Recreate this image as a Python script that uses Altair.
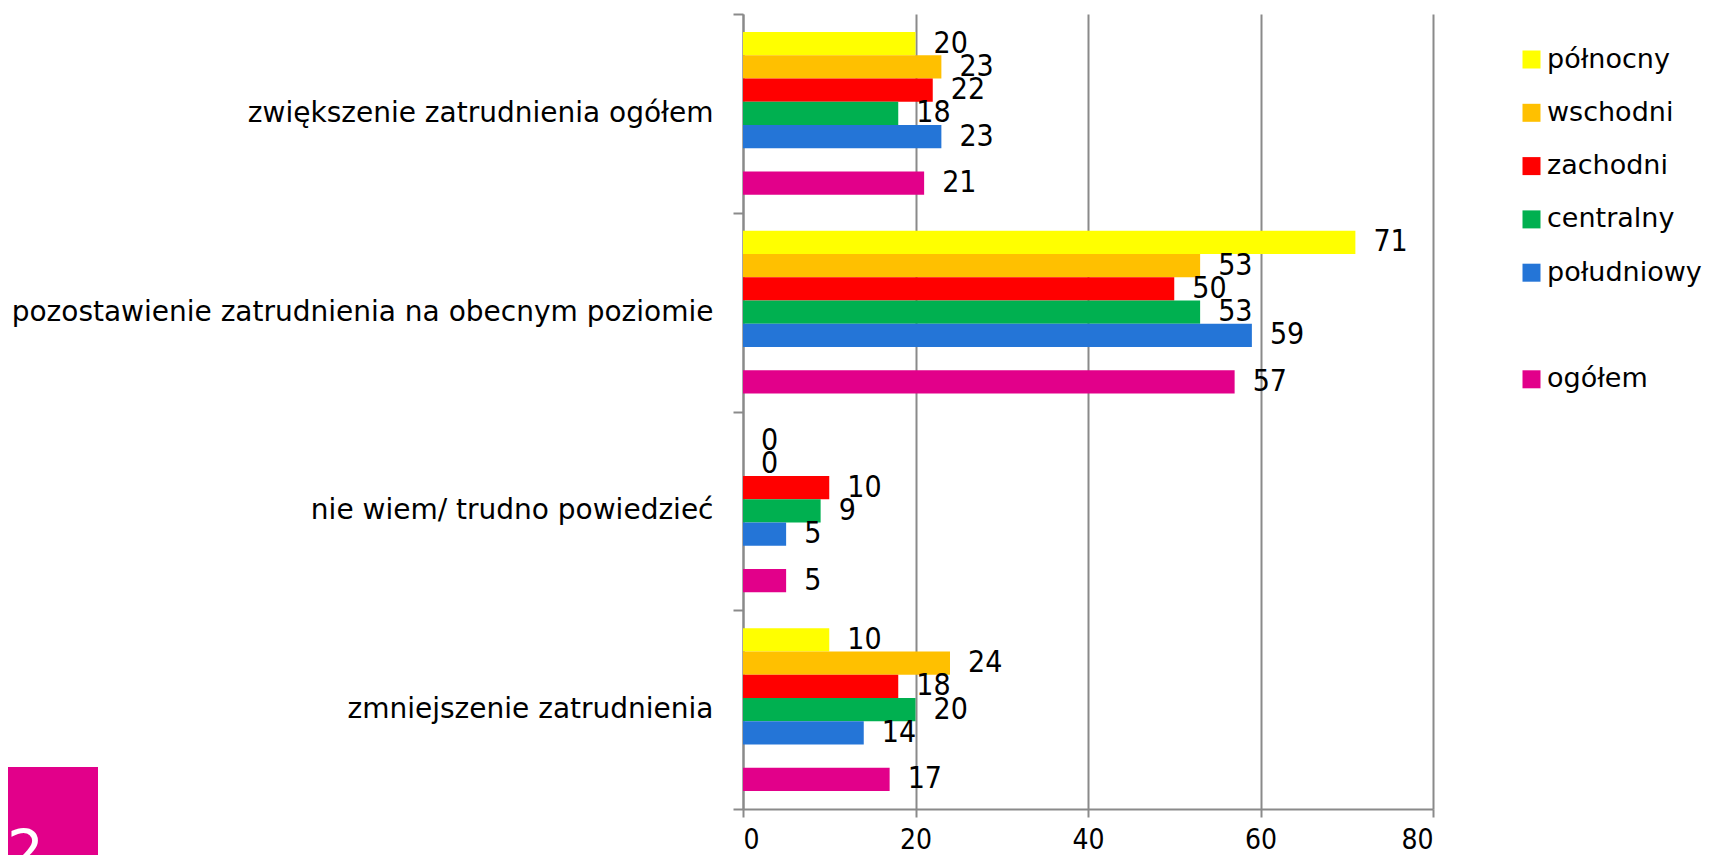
import altair as alt
import pandas as pd

categories = [
    "zwiększenie zatrudnienia ogółem",
    "pozostawienie zatrudnienia na obecnym poziomie",
    "nie wiem/ trudno powiedzieć",
    "zmniejszenie zatrudnienia",
]
series_names = ["północny", "wschodni", "zachodni", "centralny", "południowy", "ogółem"]
polnocny = [20, 71, 0, 10]
wschodni = [23, 53, 0, 24]
zachodni = [22, 50, 10, 18]
centralny = [18, 53, 9, 20]
poludniowy = [23, 59, 5, 14]
ogolem = [21, 57, 5, 17]
x_ticks = [0, 20, 40, 60, 80]

slot_order = ["północny", "wschodni", "zachodni", "centralny", "południowy", " ", "ogółem"]
slot_colors = ["#FFFF00", "#FFC000", "#FF0000", "#00B050", "#2475D7", "#FFFFFF", "#E2008A"]

rows = []
for name, vals in zip(series_names, [polnocny, wschodni, zachodni, centralny, poludniowy, ogolem]):
    for cat, v in zip(categories, vals):
        rows.append({"kategoria": cat, "region": name, "wartosc": v})
df = pd.DataFrame(rows)

GRAY = "#8a8a8a"
FONT = "DejaVu Sans"
NUMFONT = "DejaVu Sans Condensed, DejaVu Sans"

y_enc = alt.Y(
    "kategoria:N",
    sort=categories,
    scale=alt.Scale(paddingInner=0, paddingOuter=0),
    axis=alt.Axis(
        title=None, tickBand="extent", tickSize=10, tickWidth=2, tickColor=GRAY,
        domainColor=GRAY, domainWidth=2, labelFont=FONT, labelFontSize=28,
        labelColor="black", labelPadding=20, labelLimit=900, grid=False,
    ),
)
x_enc = alt.X(
    "wartosc:Q",
    scale=alt.Scale(domain=[0, 80], nice=False),
    axis=alt.Axis(
        title=None, values=x_ticks, grid=True, gridColor=GRAY, gridWidth=2,
        domainColor=GRAY, domainWidth=2, tickColor=GRAY, tickWidth=2, tickSize=8,
        labelFont=NUMFONT, labelFontSize=28, labelColor="black", labelPadding=9,
    ),
)
yoff = alt.YOffset(
    "region:N", sort=slot_order,
    scale=alt.Scale(domain=slot_order, paddingInner=0, paddingOuter=0.77),
)

base = alt.Chart(df)

bars = base.mark_bar().encode(
    x=x_enc,
    y=y_enc,
    yOffset=yoff,
    color=alt.Color(
        "region:N",
        scale=alt.Scale(domain=slot_order, range=slot_colors),
        legend=alt.Legend(
            title=None, orient="none", legendX=775, legendY=32, direction="vertical",
            padding=0, symbolType="square", symbolSize=324, symbolStrokeWidth=0,
            labelFont=FONT, labelFontSize=27, labelColor="black", labelOffset=2,
            rowPadding=25.3, labelLimit=400,
        ),
    ),
)

labels = base.mark_text(
    align="left", baseline="middle", dx=18, font=NUMFONT, fontSize=30, color="black"
).encode(
    x=alt.X("wartosc:Q"),
    y=alt.Y("kategoria:N", sort=categories),
    yOffset=alt.YOffset("region:N", sort=slot_order),
    text=alt.Text("wartosc:Q"),
)

badge_data = alt.Data(values=[{"t": "2"}])
badge = alt.Chart(badge_data).mark_rect(color="#E2008A").encode(
    x=alt.value(-735), x2=alt.value(-645), y=alt.value(753), y2=alt.value(900)
)
badge_text = alt.Chart(badge_data).mark_text(
    align="left", baseline="alphabetic", font=FONT, fontSize=58, color="white"
).encode(x=alt.value(-736), y=alt.value(858), text="t:N")

chart = alt.layer(badge, badge_text, bars, labels).properties(
    width=690,
    height=795,
    autosize=alt.AutoSizeParams(type="none"),
    padding={"left": 735, "top": 6, "right": 272, "bottom": 46},
).configure_view(stroke=None)

chart.save("out.html", embed_options={"renderer": "svg", "actions": False})
